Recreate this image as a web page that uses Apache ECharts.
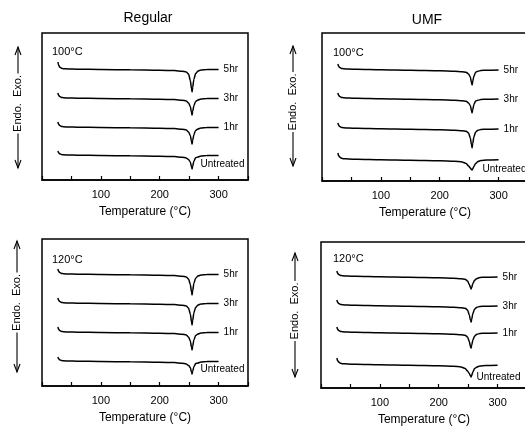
<!DOCTYPE html>
<html>
<head>
<meta charset="utf-8">
<script src="https://cdn.jsdelivr.net/npm/echarts@6/dist/echarts.min.js"></script>
<style>
html,body{margin:0;padding:0;background:#fff;}
#c{width:525px;height:432px;}
</style>
</head>
<body>
<div id="c"></div>
<script>
// Temperature sample points (°C), shared by all curves
const temps = [27, 28, 30, 33, 37, 45, 60, 100, 150, 200, 225, 238, 245, 249, 252, 254, 255, 256, 258, 261, 265, 270, 280, 300];

// Panel titles and treatment labels
const columnTitles = ['Regular', 'UMF'];
const rowLabels = ['100°C', '120°C'];
const curveNames = ['5hr', '3hr', '1hr', 'Untreated'];
const xTickLabels = [100, 200, 300];

// Heat-flow traces (arbitrary units, upward = exo)
const regular100_5hr = [118, 115.2, 113.1, 111.8, 111.3, 111, 110.8, 110.5, 110.2, 109.8, 109.4, 108.8, 108, 106, 99.5, 91.5, 88, 92.6, 100.6, 106.4, 109, 110, 110.4, 110.5];
const regular100_3hr = [87, 85, 83.5, 82.6, 82.2, 82, 81.8, 81.5, 81.2, 80.8, 80.4, 79.8, 79, 77, 73.5, 67.5, 65, 68.4, 74.3, 78.6, 80, 81, 81.4, 81.5];
const regular100_1hr = [58, 56, 54.5, 53.6, 53.2, 53, 52.8, 52.5, 52.2, 51.8, 51.4, 50.8, 50, 48, 44.5, 38.5, 36, 39.4, 45.3, 49.6, 51, 52, 52.4, 52.5];
const regular100_untreated = [29, 27.4, 26.2, 25.5, 25.2, 25, 24.8, 24.5, 24.2, 23.8, 23.4, 22.8, 22, 20.5, 18, 13.1, 11, 13.8, 18.7, 22.2, 23, 24, 24.4, 24.5];

const umf100_5hr = [117, 115, 113.5, 112.6, 112.2, 112, 111.7, 111.2, 110.7, 110.2, 109.8, 109.3, 108.7, 107, 104, 98.4, 96, 99.2, 104.8, 108.8, 109.8, 110.5, 110.8, 111];
const umf100_3hr = [88, 86, 84.5, 83.6, 83.2, 83, 82.7, 82.2, 81.7, 81.2, 80.8, 80.3, 79.7, 78, 75.5, 70.3, 68, 71, 76.3, 80, 80.8, 81.5, 81.8, 82];
const umf100_1hr = [58, 56, 54.5, 53.6, 53.2, 53, 52.7, 52.2, 51.7, 51.2, 50.8, 50.3, 49.7, 48, 43, 36, 33, 37, 44, 49, 50.8, 51.5, 51.8, 52];
const umf100_untreated = [28, 25.6, 24, 22.8, 22.3, 22, 21.7, 21.2, 20.7, 20.2, 19.8, 19, 17.5, 15, 13, 11.5, 11, 12, 14.5, 17.5, 19.5, 20.5, 21, 21.2];

const regular120_5hr = [117, 115, 113.5, 112.6, 112.2, 112, 111.8, 111.5, 111.2, 110.8, 110.4, 109.8, 109, 107, 101.5, 94.1, 91, 95.2, 102.5, 107.8, 110, 111, 111.4, 111.5];
const regular120_3hr = [88, 86, 84.5, 83.6, 83.2, 83, 82.8, 82.5, 82.2, 81.8, 81.4, 80.8, 80, 78, 72, 64.3, 61, 65.4, 73.1, 78.6, 81, 82, 82.4, 82.5];
const regular120_1hr = [59, 57, 55.5, 54.6, 54.2, 54, 53.8, 53.5, 53.2, 52.8, 52.4, 51.8, 51, 49, 45, 38.7, 36, 39.6, 45.9, 50.4, 52, 53, 53.4, 53.5];
const regular120_untreated = [29, 27.4, 26.2, 25.5, 25.2, 25, 24.8, 24.5, 24.2, 23.8, 23.4, 22.8, 22, 20.5, 18.5, 13.9, 12, 14.6, 19.2, 22.4, 23, 24, 24.4, 24.5];

const umf120_5hr = [117, 115, 113.5, 112.6, 112.2, 112, 111.7, 111.2, 110.7, 110.2, 109.8, 109.3, 108.7, 107, 103.5, 100.5, 99, 100.5, 104.5, 107.8, 109.5, 110.5, 110.8, 111];
const umf120_3hr = [88, 86, 84.5, 83.6, 83.2, 83, 82.7, 82.2, 81.7, 81.2, 80.8, 80.3, 79.7, 78, 73, 67.5, 66, 68.5, 74.5, 79, 80.8, 81.5, 81.8, 82];
const umf120_1hr = [61, 59, 57.5, 56.6, 56.2, 56, 55.7, 55.2, 54.7, 54.2, 53.8, 53.3, 52.7, 51, 46.5, 41.5, 40, 42.5, 48, 52, 53.8, 54.5, 54.8, 55];
const umf120_untreated = [30, 27.6, 26, 24.8, 24.3, 24, 23.7, 23.2, 22.7, 22.2, 21.8, 21, 19.5, 17, 14.5, 12, 11, 12.5, 16, 19.5, 21, 22, 22.5, 22.7];

const panelCurves = [
  [regular100_5hr, regular100_3hr, regular100_1hr, regular100_untreated],
  [umf100_5hr, umf100_3hr, umf100_1hr, umf100_untreated],
  [regular120_5hr, regular120_3hr, regular120_1hr, regular120_untreated],
  [umf120_5hr, umf120_3hr, umf120_1hr, umf120_untreated]
];

// Layout (pixels)
const FONT = '"Liberation Sans", Arial, Helvetica, sans-serif';
const grids = [
  {left: 42, top: 33, width: 206, height: 147},
  {left: 322, top: 33, width: 206, height: 148},
  {left: 42, top: 239, width: 206, height: 147},
  {left: 321, top: 242, width: 206, height: 146}
];
const untreatedOffsets = [[-23, 9], [-21, 9], [-23, 8], [-26, 12]];

const chart = echarts.init(document.getElementById('c'), null, {renderer: 'canvas'});

const xAxes = grids.map((g, i) => ({
  type: 'value', gridIndex: i, min: 0, max: 350, interval: 50,
  axisLine: {show: true, onZero: false, lineStyle: {color: '#000', width: 1.5}},
  axisTick: {show: true, inside: true, length: 4, lineStyle: {color: '#000', width: 1.2}},
  axisLabel: {color: '#000', fontSize: 11, fontFamily: FONT, margin: 9,
    formatter: v => xTickLabels.indexOf(v) >= 0 ? String(v) : ''},
  splitLine: {show: false},
  name: 'Temperature (°C)', nameLocation: 'middle', nameGap: 26,
  nameTextStyle: {color: '#000', fontSize: 12, fontFamily: FONT}
}));
const yAxes = grids.map((g, i) => ({
  type: 'value', gridIndex: i, min: 0, max: g.height, show: false
}));

const series = [];
panelCurves.forEach((curves, p) => {
  curves.forEach((vals, k) => {
    const isUntreated = k === 3;
    series.push({
      type: 'line', name: curveNames[k], xAxisIndex: p, yAxisIndex: p,
      data: temps.map((t, j) => [t, vals[j]]),
      showSymbol: false, symbol: 'none', smooth: 0.25, smoothMonotone: 'x',
      lineStyle: {color: '#000', width: 1.5},
      silent: true,
      endLabel: {
        show: true, formatter: curveNames[k], color: '#000', fontSize: 10, fontFamily: FONT,
        distance: 5, offset: isUntreated ? untreatedOffsets[p] : [0, 0]
      }
    });
  });
});

const graphic = [];
// column titles
graphic.push({type: 'text', x: 148, y: 18, style: {text: columnTitles[0], fill: '#000', font: '14px ' + FONT, textAlign: 'center', textVerticalAlign: 'middle'}});
graphic.push({type: 'text', x: 427, y: 20, style: {text: columnTitles[1], fill: '#000', font: '14px ' + FONT, textAlign: 'center', textVerticalAlign: 'middle'}});
// temperature labels inside panels
const rowLabelPos = [[52, 52, 0], [333, 53, 0], [52, 260, 1], [333, 259, 1]];
rowLabelPos.forEach(r => graphic.push({type: 'text', x: r[0], y: r[1], style: {text: rowLabels[r[2]], fill: '#000', font: '11px ' + FONT, textAlign: 'left', textVerticalAlign: 'middle'}}));
// y-axis labels with arrows
const yLab = [
  {x: 18, top: 47, bottom: 168},
  {x: 293, top: 46, bottom: 166},
  {x: 17, top: 241, bottom: 372},
  {x: 295, top: 253, bottom: 377}
];
yLab.forEach(a => {
  const mid = (a.top + a.bottom) / 2 - 4;
  graphic.push({type: 'text', x: a.x, y: mid, rotation: Math.PI / 2,
    style: {text: 'Endo.  Exo.', fill: '#000', font: '11px ' + FONT, textAlign: 'center', textVerticalAlign: 'middle'}});
  const half = 30;
  const ls = {stroke: '#000', lineWidth: 1.1, fill: null};
  graphic.push({type: 'polyline', shape: {points: [[a.x, a.top], [a.x, mid - half]]}, style: ls});
  graphic.push({type: 'polyline', shape: {points: [[a.x - 3, a.top + 8], [a.x, a.top], [a.x + 3, a.top + 8]]}, style: ls});
  graphic.push({type: 'polyline', shape: {points: [[a.x, mid + half], [a.x, a.bottom]]}, style: ls});
  graphic.push({type: 'polyline', shape: {points: [[a.x - 3, a.bottom - 8], [a.x, a.bottom], [a.x + 3, a.bottom - 8]]}, style: ls});
});

chart.setOption({
  animation: false,
  backgroundColor: '#fff',
  textStyle: {fontFamily: FONT},
  grid: grids.map(g => Object.assign({show: true, borderColor: '#000', borderWidth: 1.5, containLabel: false, outerBoundsMode: 'none'}, g)),
  xAxis: xAxes,
  yAxis: yAxes,
  series: series,
  graphic: graphic
});
</script>
</body>
</html>
